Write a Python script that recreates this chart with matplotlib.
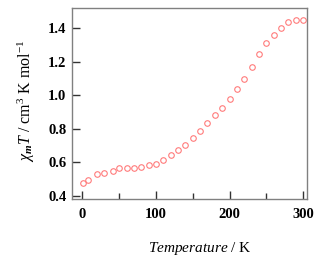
import matplotlib
matplotlib.use("Agg")
import matplotlib.pyplot as plt
from matplotlib.ticker import MultipleLocator

temperature = [1.4, 8, 20, 30, 41, 50, 60, 70, 80, 90, 100, 110, 120, 130, 140, 150,
               160, 170, 180, 190, 200, 210, 220, 230, 240, 250, 260, 270, 280, 290, 300]
chi_t = [0.476, 0.493, 0.529, 0.535, 0.551, 0.565, 0.565, 0.567, 0.571, 0.583, 0.593,
         0.615, 0.643, 0.672, 0.706, 0.746, 0.788, 0.833, 0.881, 0.927, 0.981, 1.036,
         1.098, 1.169, 1.247, 1.311, 1.360, 1.400, 1.438, 1.450, 1.448]
x_ticks = [0, 100, 200, 300]
y_ticks = [0.4, 0.6, 0.8, 1.0, 1.2, 1.4]

plt.rcParams['font.family'] = ['Liberation Serif', 'DejaVu Serif']
plt.rcParams['mathtext.fontset'] = 'custom'
plt.rcParams['mathtext.rm'] = 'Liberation Serif'
plt.rcParams['mathtext.it'] = 'Liberation Serif:italic'
plt.rcParams['mathtext.bf'] = 'Liberation Serif:bold:italic'

fig = plt.figure(figsize=(3.23, 2.62), dpi=100)
ax = fig.add_axes([0.223, 0.239, 0.727, 0.730])

ax.plot(temperature, chi_t, linestyle='none', marker='o', markersize=4.0,
        markerfacecolor='none', markeredgecolor='#ff7b7b', markeredgewidth=0.8)

ax.set_xlim(-14, 305)
ax.set_ylim(0.38, 1.52)
ax.set_xticks(x_ticks)
ax.set_yticks(y_ticks)
ax.xaxis.set_minor_locator(MultipleLocator(50))
ax.set_xticklabels([str(v) for v in x_ticks])
ax.set_yticklabels([f"{v:.1f}" for v in y_ticks])

for s in ax.spines.values():
    s.set_color('#808080')
    s.set_linewidth(1.0)

ax.tick_params(axis='both', which='major', direction='in', length=6, width=1.0,
               color='#333333', labelsize=10.5)
ax.tick_params(axis='x', which='major', pad=6)
ax.tick_params(axis='y', which='major', pad=4)
ax.tick_params(axis='x', which='minor', direction='in', length=4, width=1.0, color='#333333')
ax.tick_params(axis='both', which='both', top=False, right=False)
for lbl in ax.get_xticklabels() + ax.get_yticklabels():
    lbl.set_fontweight('bold')

ax.set_xlabel(r'$\mathit{Temperature}$ / K', fontsize=11)
ax.set_ylabel(r'$\chi_{\mathbf{m}}\mathit{T}$ / cm$^{3}$ K mol$^{-1}$', fontsize=11.5)
ax.xaxis.set_label_coords(0.545, -0.213)
ax.yaxis.set_label_coords(-0.149, 0.514)

fig.savefig('out.png', dpi=100)
